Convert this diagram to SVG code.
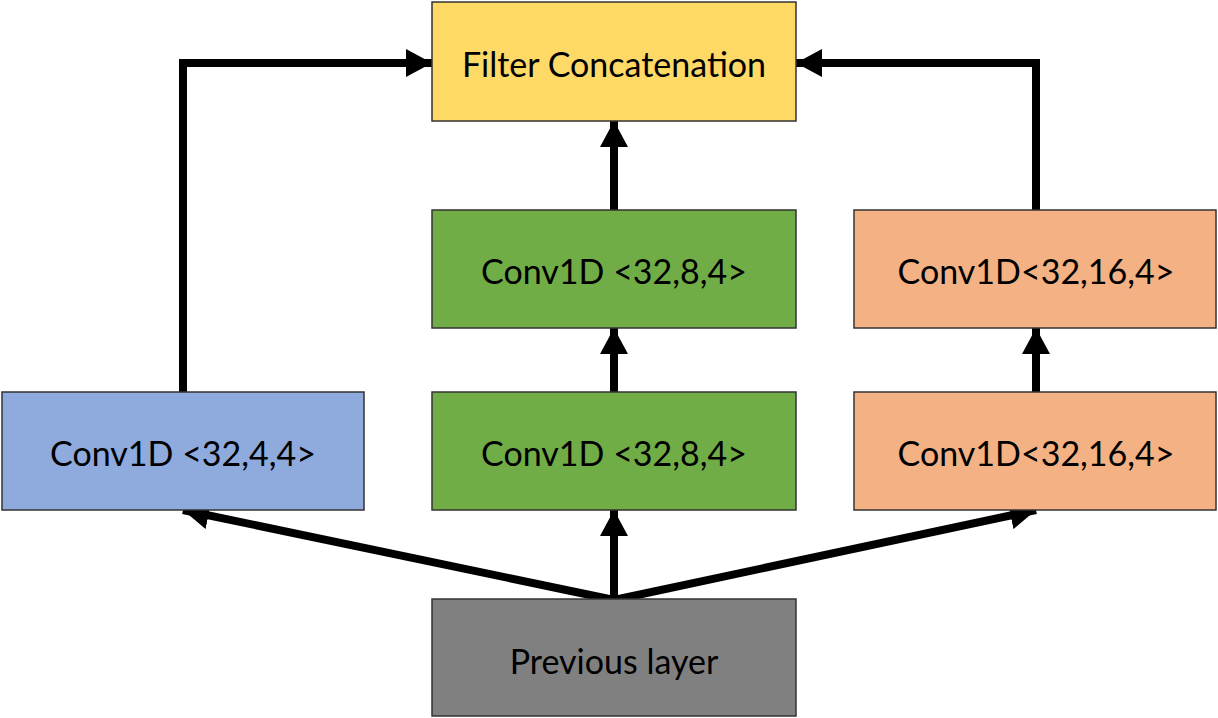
<svg xmlns="http://www.w3.org/2000/svg" width="1218" height="718" viewBox="0 0 1218 718">
<style>
.box{stroke:#333;stroke-width:1.5}
.lbl{font-family:Lato,"Liberation Sans",sans-serif;font-size:34px;fill:#000;text-anchor:middle;dominant-baseline:central}
.edge{fill:none;stroke:#000;stroke-width:8}
</style>
<defs>
<marker id="ah" viewBox="0 0 26 28" refX="26" refY="14" markerWidth="26" markerHeight="28" markerUnits="userSpaceOnUse" orient="auto">
<path d="M0,0 L26,14 L0,28 Z" fill="#000"/>
</marker>
</defs>
<rect width="1218" height="718" fill="#fff"/>
<g id="edges">
<path class="edge" d="M183,392 V63 H432" marker-end="url(#ah)"/>
<path class="edge" d="M1036,210 V63 H796" marker-end="url(#ah)"/>
<path class="edge" d="M614,210 V121" marker-end="url(#ah)"/>
<path class="edge" d="M614,392 V328" marker-end="url(#ah)"/>
<path class="edge" d="M1036,392 V328" marker-end="url(#ah)"/>
<path class="edge" d="M614,600 V510" marker-end="url(#ah)"/>
<path class="edge" d="M614,600 L183,510" marker-end="url(#ah)"/>
<path class="edge" d="M614,600 L1036,510" marker-end="url(#ah)"/>
</g>
<g id="concat"><rect class="box" x="432" y="2" width="364" height="119" fill="#FFD966"/><text class="lbl" x="614" y="63">Filter Concatenation</text></g>
<g id="g2"><rect class="box" x="432" y="210" width="364" height="118" fill="#70AD47"/><text class="lbl" x="614" y="270">Conv1D &lt;32,8,4&gt;</text></g>
<g id="g1"><rect class="box" x="432" y="392" width="364" height="118" fill="#70AD47"/><text class="lbl" x="614" y="452">Conv1D &lt;32,8,4&gt;</text></g>
<g id="blue"><rect class="box" x="2" y="392" width="362" height="118" fill="#8FAADC"/><text class="lbl" x="183" y="452">Conv1D &lt;32,4,4&gt;</text></g>
<g id="o2"><rect class="box" x="854" y="210" width="362" height="118" fill="#F4B183"/><text class="lbl" x="1036" y="270">Conv1D&lt;32,16,4&gt;</text></g>
<g id="o1"><rect class="box" x="854" y="392" width="362" height="118" fill="#F4B183"/><text class="lbl" x="1036" y="452">Conv1D&lt;32,16,4&gt;</text></g>
<g id="prev"><rect class="box" x="432" y="599" width="364" height="117" fill="#808080"/><text class="lbl" x="614" y="660">Previous layer</text></g>
</svg>
